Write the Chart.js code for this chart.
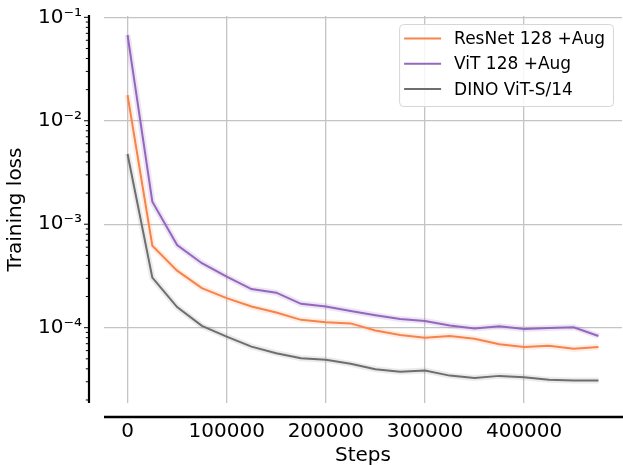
<!DOCTYPE html>
<html>
<head>
<meta charset="utf-8">
<script src="https://cdn.jsdelivr.net/npm/chart.js@4"></script>
<style>
  html, body { margin: 0; padding: 0; background: #fff; overflow: hidden; }
  #wrap { width: 623px; height: 468px; }
</style>
</head>
<body>
<div id="wrap"><canvas id="lossChart"></canvas></div>
<script>
// training steps (x) and mean loss per model
const steps = [0, 25000, 50000, 75000, 100000, 125000, 150000, 175000, 200000, 225000,
               250000, 275000, 300000, 325000, 350000, 375000, 400000, 425000, 450000, 475000];

const resnetLoss = [1.77e-2, 6.2e-4, 3.56e-4, 2.41e-4, 1.93e-4, 1.60e-4, 1.40e-4, 1.19e-4, 1.13e-4, 1.10e-4,
                    9.4e-5, 8.5e-5, 8.0e-5, 8.3e-5, 7.8e-5, 6.9e-5, 6.5e-5, 6.7e-5, 6.24e-5, 6.5e-5];
const vitLoss    = [6.75e-2, 1.65e-3, 6.3e-4, 4.2e-4, 3.12e-4, 2.36e-4, 2.18e-4, 1.70e-4, 1.60e-4, 1.45e-4,
                    1.32e-4, 1.21e-4, 1.16e-4, 1.05e-4, 9.8e-5, 1.03e-4, 9.7e-5, 9.95e-5, 1.01e-4, 8.3e-5];
const dinoLoss   = [4.78e-3, 3.05e-4, 1.58e-4, 1.04e-4, 8.2e-5, 6.56e-5, 5.67e-5, 5.07e-5, 4.89e-5, 4.47e-5,
                    3.97e-5, 3.74e-5, 3.85e-5, 3.44e-5, 3.27e-5, 3.42e-5, 3.32e-5, 3.13e-5, 3.08e-5, 3.08e-5];

const seriesNames = ['ResNet 128 +Aug', 'ViT 128 +Aug', 'DINO ViT-S/14'];
const xTicks = [0, 100000, 200000, 300000, 400000];
const yDecades = [-5, -4, -3, -2, -1];

const colors = ['#f5844c', '#9467bd', '#6e6e6e'];
const bands  = ['rgba(245,132,76,0.15)', 'rgba(148,103,189,0.17)', 'rgba(110,110,110,0.14)'];
const FONT = "'DejaVu Sans', sans-serif";

const sup = s => s.replace(/-/g, '⁻').replace(/\d/g, d => '⁰¹²³⁴⁵⁶⁷⁸⁹'[d]);
const isDecade = v => Math.abs(Math.log10(v) - Math.round(Math.log10(v))) < 1e-9;

const allLoss = [resnetLoss, vitLoss, dinoLoss];
const datasets = [];
allLoss.forEach((d, i) => {
  datasets.push({
    label: seriesNames[i], data: steps.map((s, k) => ({ x: s, y: d[k] })),
    borderColor: colors[i], borderWidth: 2, pointRadius: 0, tension: 0, fill: false
  });
});
// soft band under each line
allLoss.forEach((d, i) => {
  datasets.push({
    label: '', data: steps.map((s, k) => ({ x: s, y: d[k] })),
    borderColor: bands[i], borderWidth: 6, pointRadius: 0, tension: 0, fill: false
  });
});

// offset spines + small tick marks, matplotlib style
const spines = {
  id: 'spines',
  afterDraw(chart) {
    const { ctx, chartArea: a, scales: { y } } = chart;
    const sx = a.left - 15;
    ctx.save();
    ctx.strokeStyle = '#000';
    ctx.lineWidth = 2.2;
    ctx.beginPath();
    ctx.moveTo(sx, a.top - 1); ctx.lineTo(sx, a.bottom);
    ctx.stroke();
    ctx.lineWidth = 2.7;
    ctx.beginPath();
    ctx.moveTo(a.left, a.bottom + 14); ctx.lineTo(chart.width, a.bottom + 14);
    ctx.stroke();
    ctx.lineWidth = 1;
    y.ticks.forEach(t => {
      const py = y.getPixelForValue(t.value);
      const len = isDecade(t.value) ? 4 : 2.2;
      ctx.beginPath();
      ctx.moveTo(sx - 1, py); ctx.lineTo(sx - 1 - len, py);
      ctx.stroke();
    });
    ctx.restore();
  }
};

// framed legend in the top-right corner
const boxLegend = {
  id: 'boxLegend',
  afterDraw(chart) {
    const { ctx, chartArea: a } = chart;
    ctx.save();
    ctx.font = '17px ' + FONT;
    const textW = Math.max(...seriesNames.map(n => ctx.measureText(n).width));
    const w = 5 + 37 + 13 + textW + 8;
    const h = 82;
    const right = a.right - 9, top = a.top + 8, left = right - w;
    ctx.fillStyle = 'rgba(255,255,255,0.85)';
    ctx.strokeStyle = '#d6d6d6';
    ctx.lineWidth = 1;
    ctx.beginPath();
    ctx.roundRect(left + 0.5, top + 0.5, w, h, 4);
    ctx.fill(); ctx.stroke();
    ctx.textBaseline = 'middle';
    seriesNames.forEach((n, i) => {
      const cy = top + 14.5 + i * 25.3;
      ctx.strokeStyle = colors[i];
      ctx.lineWidth = 2;
      ctx.beginPath();
      ctx.moveTo(left + 5, cy); ctx.lineTo(left + 42, cy);
      ctx.stroke();
      ctx.fillStyle = '#000';
      ctx.fillText(n, left + 55, cy + 1);
    });
    ctx.restore();
  }
};

new Chart(document.getElementById('lossChart'), {
  type: 'line',
  data: { datasets },
  options: {
    responsive: true,
    maintainAspectRatio: false,
    animation: false,
    layout: { padding: { left: 4, right: 1, top: 16, bottom: 0 } },
    plugins: { legend: { display: false }, tooltip: { enabled: false } },
    scales: {
      x: {
        type: 'linear', min: -23750, max: 498750,
        border: { display: false },
        grid: { color: '#c4c4c4', lineWidth: 1.3, drawTicks: false },
        afterBuildTicks: s => { s.ticks = xTicks.map(v => ({ value: v })); },
        afterFit: s => { s.height = 65; s.paddingLeft = 0; s.paddingRight = 0; },
        ticks: { padding: 17, color: '#000', font: { family: FONT, size: 20 }, callback: v => String(v) },
        title: { display: true, text: 'Steps', color: '#000', padding: 0, font: { family: FONT, size: 20 } }
      },
      y: {
        type: 'logarithmic', min: 1.87e-5, max: 0.103,
        border: { display: false },
        grid: { color: c => isDecade(c.tick.value) ? '#c4c4c4' : 'rgba(0,0,0,0)', lineWidth: 1.3, drawTicks: false },
        afterBuildTicks: s => {
          const t = [];
          yDecades.forEach(e => { for (let m = 1; m <= 9; m++) { const v = m * Math.pow(10, e); if (v >= s.min && v <= s.max) t.push({ value: v }); } });
          s.ticks = t;
        },
        afterFit: s => { s.width = 100; s.paddingTop = 0; s.paddingBottom = 0; },
        ticks: {
          autoSkip: false, padding: 22, color: '#000', font: { family: FONT, size: 20 },
          callback: v => isDecade(v) ? '10' + sup(String(Math.round(Math.log10(v)))) : ''
        },
        title: { display: true, text: 'Training loss', color: '#000', padding: 0, font: { family: FONT, size: 20 } }
      }
    }
  },
  plugins: [spines, boxLegend]
});
</script>
</body>
</html>
